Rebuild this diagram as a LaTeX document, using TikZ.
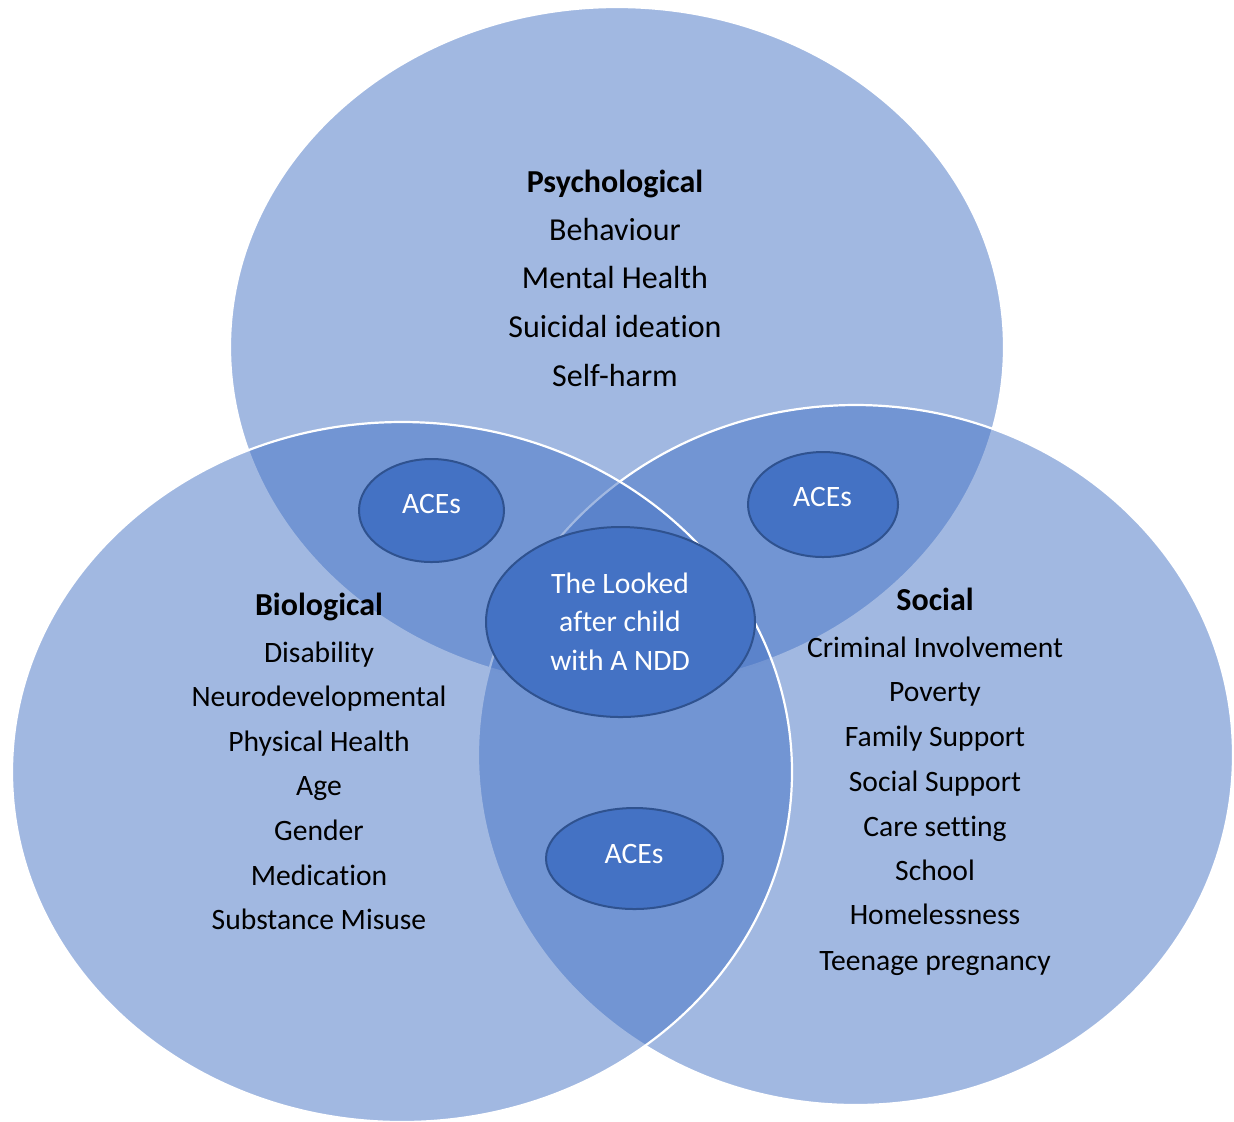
\documentclass[tikz,border=0pt]{standalone}
\usepackage{fontspec}
\setmainfont{Carlito}[Ligatures={NoCommon}]
\usetikzlibrary{shapes.geometric}
\definecolor{vblue}{HTML}{4472C4}
\definecolor{vedge}{HTML}{2F528F}
\begin{document}
\begin{tikzpicture}[x=0.5pt,y=-0.5pt,
  setshape/.style={fill=vblue, fill opacity=0.5, draw=white, draw opacity=1, line width=1.1pt},
  hubshape/.style={ellipse, fill=vblue, draw=vedge, line width=1pt, inner sep=0pt},
  hubtext/.style={anchor=base, text=white, inner sep=0pt, font=\fontsize{14.8pt}{17pt}\selectfont},
  toptext/.style={anchor=base, inner sep=0pt, font=\fontsize{16pt}{19pt}\selectfont},
  tophead/.style={toptext, font=\bfseries\fontsize{16pt}{19pt}\selectfont},
  listtext/.style={anchor=base, inner sep=0pt, font=\fontsize{14.8pt}{18pt}\selectfont},
  listhead/.style={listtext, font=\bfseries\fontsize{16pt}{19pt}\selectfont}]
\useasboundingbox (0,0) rectangle (1234,1121);
% the three sets: psychological, social, biological
\path[setshape] (617,347) ellipse [x radius=193.5pt, y radius=170pt];
\path[setshape] (855.5,755) ellipse [x radius=188.75pt, y radius=175pt];
\path[setshape] (402,772) ellipse [x radius=195pt, y radius=175pt];
% overlap ellipses
\node[hubshape, minimum width=72.5pt, minimum height=51.5pt] (aceL) at (431.5,510.5) {};
\node[hubshape, minimum width=75pt, minimum height=52.5pt] (aceR) at (823,504.5) {};
\node[hubshape, minimum width=88.5pt, minimum height=50.5pt] (aceB) at (634.5,858.5) {};
\node[hubshape, minimum width=134.5pt, minimum height=95pt] (hub) at (620.5,622) {};
\node[hubtext] (aceLt) at (431.5,513) {ACEs};
\node[hubtext] (aceRt) at (822.5,506) {ACEs};
\node[hubtext] (aceBt) at (634,863) {ACEs};
\node[hubtext] (hub1) at (620,593) {The Looked};
\node[hubtext] (hub2) at (620,631.5) {after child};
\node[hubtext] (hub3) at (620,670) {with A NDD};
% psychological
\node[tophead] (p0) at (615,192) {Psychological};
\node[toptext] (p1) at (615,240) {Behaviour};
\node[toptext] (p2) at (615,288) {Mental Health};
\node[toptext] (p3) at (615,337) {Suicidal ideation};
\node[toptext] (p4) at (615,386) {Self-harm};
% biological
\node[listhead] (b0) at (319,615) {Biological};
\node[listtext] (b1) at (319,662) {Disability};
\node[listtext] (b2) at (319,706) {Neurodevelopmental};
\node[listtext] (b3) at (319,751) {Physical Health};
\node[listtext] (b4) at (319,795.5) {Age};
\node[listtext] (b5) at (319,840) {Gender};
\node[listtext] (b6) at (319,885) {Medication};
\node[listtext] (b7) at (319,929.5) {Substance Misuse};
% social
\node[listhead] (s0) at (935,610) {Social};
\node[listtext] (s1) at (935,657) {Criminal Involvement};
\node[listtext] (s2) at (935,701) {Poverty};
\node[listtext] (s3) at (935,746) {Family Support};
\node[listtext] (s4) at (935,791) {Social Support};
\node[listtext] (s5) at (935,836) {Care setting};
\node[listtext] (s6) at (935,880) {School};
\node[listtext] (s7) at (935,924.5) {Homelessness};
\node[listtext] (s8) at (935,970) {Teenage pregnancy};
\end{tikzpicture}
\end{document}
